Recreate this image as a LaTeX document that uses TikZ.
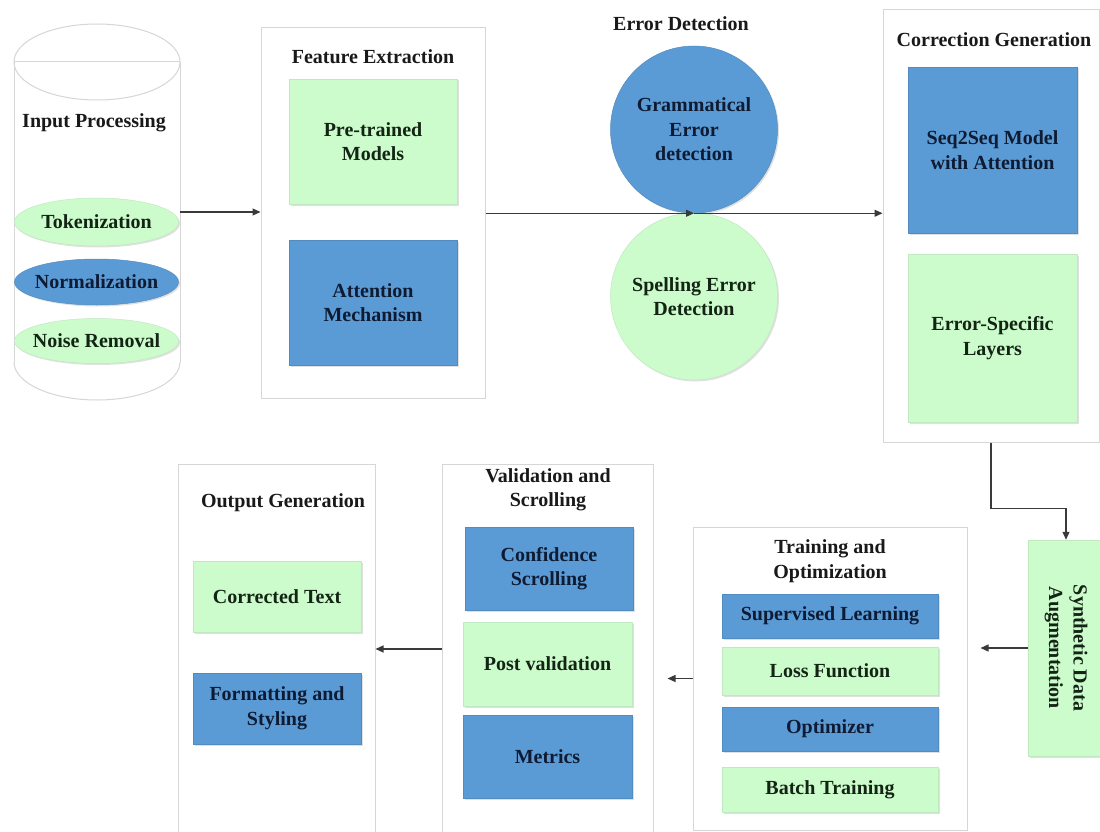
\documentclass[tikz,border=0pt]{standalone}
\usepackage{fontspec}
\setmainfont{Liberation Serif}
\usetikzlibrary{arrows.meta,shadows,shapes.geometric}
\definecolor{bluef}{HTML}{5B9BD5}
\definecolor{greenf}{HTML}{CCFCCC}
\definecolor{framec}{HTML}{D6D6D6}
\definecolor{bluetxt}{HTML}{0E1B33}
\definecolor{greentxt}{HTML}{142414}
\definecolor{conn}{HTML}{3A3A3A}
\begin{document}
\begin{tikzpicture}[x=1pt,y=-1pt,
  font=\fontsize{20}{24.5}\selectfont\bfseries,
  panel/.style={draw=framec,line width=1pt,fill=white,inner sep=0pt},
  shad/.style={drop shadow={shadow xshift=1.5pt,shadow yshift=-1.5pt,opacity=0.12,fill=black}},
  bbox/.style={shad,fill=bluef,draw=bluef!90!black,line width=0.5pt,text=bluetxt,align=center,inner sep=0pt},
  gbox/.style={shad,fill=greenf,draw=greenf!85!gray,line width=0.5pt,text=greentxt,align=center,inner sep=0pt},
  ell/.style={ellipse,inner xsep=-10pt,inner ysep=0pt,minimum width=164pt},
  ttl/.style={text=black!90,align=center,inner sep=0pt},
  arr/.style={draw=conn,line width=1.2pt,-{Triangle[length=8pt,width=7pt]}},
  cyl/.style={draw=framec,line width=1pt}
]
\fill[white] (0,0) rectangle (1100,832);
\useasboundingbox (0,0) rectangle (1100,832);

% ---------- Input processing cylinder ----------
\node[inner sep=0pt,minimum width=166pt,minimum height=375pt] (inp) at (97,212) {};
\draw[cyl] (14,62) -- (14,362);
\draw[cyl] (180,62) -- (180,362);
\draw[cyl] (97,62) ellipse[x radius=83,y radius=38];
\draw[cyl] (14,62) -- (180,62);
\begin{scope}
  \clip (0,362) rectangle (200,420);
  \draw[cyl] (97,362) ellipse[x radius=83,y radius=38];
\end{scope}
\node[ttl] (inpt) at (94,123) {Input Processing};
\node[gbox,ell,minimum height=48pt] (tok) at (96.5,222) {Tokenization};
\node[bbox,ell,minimum height=46pt] (norm) at (96.5,282) {Normalization};
\node[gbox,ell,minimum height=45pt] (noise) at (96.5,341) {Noise Removal};

% ---------- Feature extraction ----------
\node[panel,minimum width=224pt,minimum height=370pt] (fe) at (373,213) {};
\node[ttl] (fet) at (373,57) {Feature Extraction};
\node[gbox,minimum width=168pt,minimum height=125pt] (pre) at (373,141.5) {Pre-trained\\Models};
\node[bbox,minimum width=168pt,minimum height=125pt] (att) at (373,302.5) {Attention\\Mechanism};

% ---------- Error detection ----------
\node[ttl] (edt) at (681,24) {Error Detection};
\node[bbox,circle,minimum size=167pt] (gram) at (694,129.5) {Grammatical\\Error\\detection};
\node[gbox,circle,minimum size=167pt] (spell) at (694,296.5) {Spelling Error\\Detection};

% ---------- Correction generation ----------
\node[panel,minimum width=216pt,minimum height=432pt] (corr) at (991,226) {};
\node[ttl] (corrt) at (994,40) {Correction Generation};
\node[bbox,minimum width=169pt,minimum height=166pt] (seq) at (992.5,150) {Seq2Seq Model\\with Attention};
\node[gbox,minimum width=169pt,minimum height=168pt] (esl) at (992.5,338) {Error-Specific\\Layers};

% ---------- Synthetic data augmentation ----------
\node[gbox,minimum width=76pt,minimum height=216pt] (syn) at (1066,648) {};
\node[text=greentxt,align=center,rotate=-90,inner sep=0pt] (synt) at (syn.center) {Synthetic Data\\Augmentation};

% ---------- Training and optimization ----------
\node[panel,minimum width=274pt,minimum height=303pt] (train) at (830,678.5) {};
\node[ttl] (traint) at (830,561) {Training and\\Optimization};
\node[bbox,minimum width=216pt,minimum height=44pt] (sup) at (830,616) {Supervised Learning};
\node[gbox,minimum width=216pt,minimum height=48pt] (loss) at (830,671) {Loss Function};
\node[bbox,minimum width=216pt,minimum height=44pt] (opt) at (830,729) {Optimizer};
\node[gbox,minimum width=216pt,minimum height=45pt] (batch) at (830,789.5) {Batch Training};

% ---------- Validation and scrolling ----------
\node[panel,minimum width=211pt,minimum height=370pt] (val) at (547.5,649) {};
\node[ttl] (valt) at (548,490) {Validation and\\Scrolling};
\node[bbox,minimum width=168pt,minimum height=83pt] (conf) at (549,568.5) {Confidence\\Scrolling};
\node[gbox,minimum width=169pt,minimum height=84pt] (pv) at (547.5,664) {Post validation};
\node[bbox,minimum width=169pt,minimum height=83pt] (met) at (547.5,756.5) {Metrics};

% ---------- Output generation ----------
\node[panel,minimum width=197pt,minimum height=370pt] (out) at (276.5,649) {};
\node[ttl] (outt) at (283,503) {Output Generation};
\node[gbox,minimum width=168pt,minimum height=71pt] (ct) at (277,596.5) {Corrected Text};
\node[bbox,minimum width=168pt,minimum height=71pt] (fmt) at (277,708.5) {Formatting and\\Styling};

% ---------- Connectors ----------
\draw[arr] (inp.east) -- (inp.east -| fe.west);
\draw[arr] (fe.east |- gram.south) -- (gram.south);
\draw[arr] (gram.south) -- (gram.south -| corr.west);
\draw[arr] (corr.south) -- ++(0,66) -| (syn.north);
\draw[arr,shorten >=13pt] (syn.west) -- (syn.west -| train.east);
\draw[arr,shorten >=14pt] (train.west) -- (train.west -| val.east);
\draw[arr] (val.west) -- (out.east);
\end{tikzpicture}
\end{document}
